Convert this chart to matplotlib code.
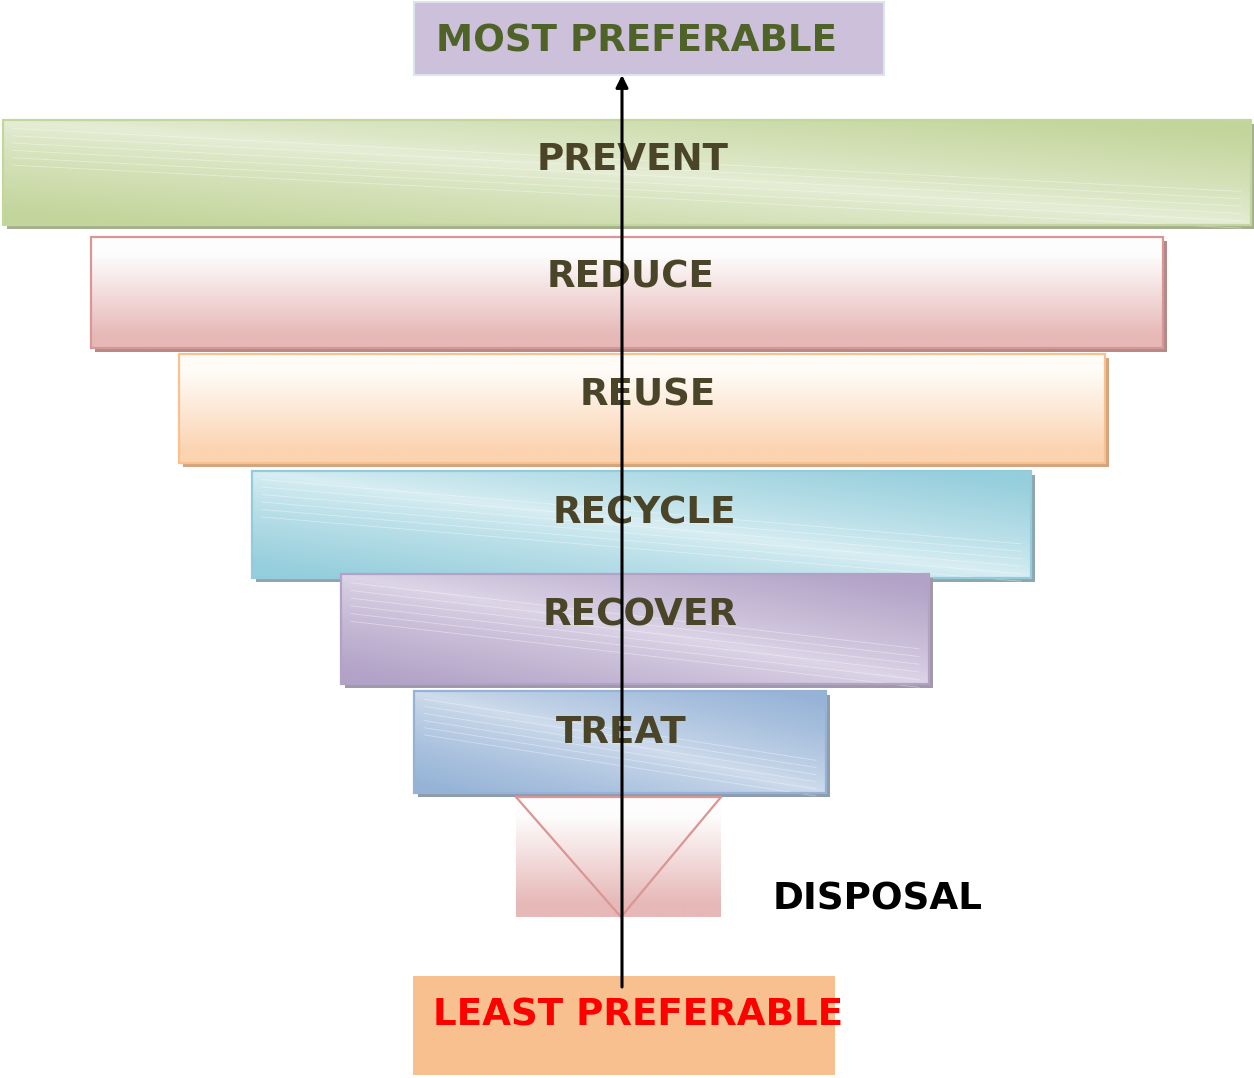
import numpy as np
import matplotlib
matplotlib.use("Agg")
import matplotlib.pyplot as plt
from matplotlib.colors import to_rgb
from matplotlib.patches import Rectangle

# hierarchy levels, top to bottom
levels = ["PREVENT", "REDUCE", "REUSE", "RECYCLE", "RECOVER", "TREAT"]
lefts = [3, 91, 179, 252, 341, 414]
rights = [1251, 1163, 1105, 1031, 929, 826]
tops = [120, 237, 354, 471, 574, 691]
bottoms = [225, 348, 463, 578, 684, 793]
light_cols = ["#e6edd6", "#fefdfd", "#fffcf8", "#d9eef3", "#ddd6e7", "#cfdcec"]
dark_cols = ["#c2d59a", "#e6b8b7", "#fbd3b0", "#95cedc", "#b2a2c7", "#96b3d7"]
edge_cols = ["#c3d69b", "#d99694", "#fac090", "#93cddd", "#b3a2c7", "#95b3d7"]
shadow_cols = ["#a6ae90", "#b38a8a", "#d3a47e", "#8fa6ae", "#a09aa8", "#8e9cac"]
diagonal = [True, False, False, True, True, True]
text_x = [537, 547, 580, 553, 543, 556]
text_y = [170, 288, 405, 523, 626, 743]

W, H = 1254, 1078
fig = plt.figure(figsize=(W / 100, H / 100), dpi=100)
ax = fig.add_axes([0, 0, 1, 1])
ax.set_xlim(0, W)
ax.set_ylim(H, 0)
ax.axis("off")

fs = 26.8
txt_col = "#4a4429"


def gradient_box(x0, x1, y0, y1, c_light, c_dark, diag, z):
    nx, ny = 200, 60
    u = np.linspace(0, 1, nx)[None, :]
    v = np.linspace(0, 1, ny)[:, None]
    if diag:
        t = np.clip(np.abs(v - u) * 1.1, 0, 1) ** 0.8
    else:
        t = np.clip((v - 0.15) / 0.75, 0, 1) + 0 * u
    a = np.array(to_rgb(c_light))
    b = np.array(to_rgb(c_dark))
    img = a[None, None, :] * (1 - t[..., None]) + b[None, None, :] * t[..., None]
    ax.imshow(img, extent=(x0, x1, y1, y0), origin="upper", aspect="auto",
              interpolation="bilinear", zorder=z)


for i, name in enumerate(levels):
    x0, x1, y0, y1 = lefts[i], rights[i], tops[i], bottoms[i]
    ax.add_patch(Rectangle((x0 + 4, y0 + 4), x1 - x0, y1 - y0,
                           facecolor=shadow_cols[i], edgecolor="none", zorder=2 + i * 3))
    gradient_box(x0, x1, y0, y1, light_cols[i], dark_cols[i], diagonal[i], 3 + i * 3)
    ax.add_patch(Rectangle((x0, y0), x1 - x0, y1 - y0, facecolor="none",
                           edgecolor=edge_cols[i], lw=1.6, zorder=4 + i * 3))
    # faint streaks on the textured bars
    if diagonal[i]:
        for k in range(6):
            ys = y0 + (y1 - y0) * (0.08 + 0.07 * k)
            ax.plot([x0 + 10, x1 - 10], [ys, ys + (y1 - y0) * 0.6], color="white",
                    lw=0.6, alpha=0.4, zorder=3.5 + i * 3)
    ax.text(text_x[i], text_y[i], name, fontsize=fs, fontweight="bold",
            color=txt_col, ha="left", va="baseline", zorder=30)

# disposal block with inverted triangle
tri_x0, tri_x1, tri_y0, tri_y1, tri_tip = 516, 721, 797, 917, 621
gradient_box(tri_x0, tri_x1, tri_y0, tri_y1, "#fefdfd", "#e6b8b7", False, 20)
ax.plot([tri_x0, tri_tip, tri_x1], [tri_y0, tri_y1, tri_y0], color="#d99694",
        lw=1.6, zorder=21)
ax.plot([tri_x0, tri_x1], [tri_y0, tri_y0], color="#d99694", lw=1.6, zorder=21)
ax.text(773, 910, "DISPOSAL", fontsize=fs, fontweight="bold", color="black",
        ha="left", va="baseline", zorder=30)

# top and bottom labels
ax.add_patch(Rectangle((414, 2), 470, 73, facecolor="#ccc0da", edgecolor="#dce4f0",
                       lw=1.5, zorder=25))
ax.text(436, 52, "MOST PREFERABLE", fontsize=fs, fontweight="bold", color="#4f6228",
        ha="left", va="baseline", zorder=30)
ax.add_patch(Rectangle((413, 976), 422, 99, facecolor="#f9c08f", edgecolor="none",
                       zorder=25))
ax.text(433, 1026, "LEAST PREFERABLE", fontsize=fs, fontweight="bold", color="#ff0000",
        ha="left", va="baseline", zorder=30)

# arrow from least to most preferable
ax.annotate("", xy=(622, 75), xytext=(622, 987),
            arrowprops=dict(arrowstyle="-|>", color="black", lw=2.2,
                            mutation_scale=18, shrinkA=0, shrinkB=0),
            zorder=40)

fig.savefig("out.png", dpi=100)
